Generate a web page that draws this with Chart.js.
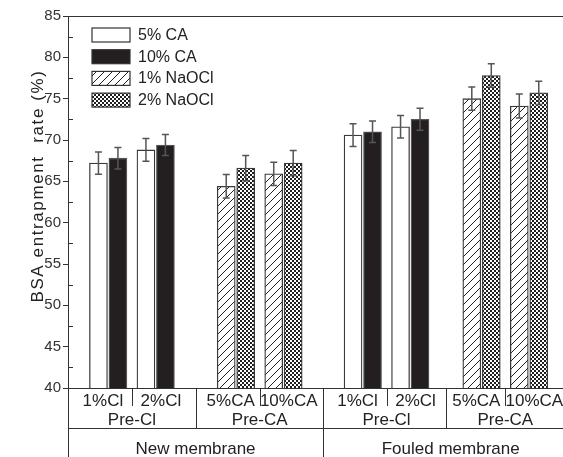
<!DOCTYPE html>
<html>
<head>
<meta charset="utf-8">
<script src="https://cdn.jsdelivr.net/npm/chart.js@4.4.1/dist/chart.umd.min.js"></script>
<style>
  html, body { margin: 0; padding: 0; background: #fff; }
</style>
</head>
<body>
<canvas id="chart" width="563" height="457"></canvas>
<script>
// group labels along the bottom, left to right
const groupLabels = ['1%Cl', '2%Cl', '5%CA', '10%CA', '1%Cl', '2%Cl', '5%CA', '10%CA'];
const treatmentLabels = ['Pre-Cl', 'Pre-CA', 'Pre-Cl', 'Pre-CA'];
const membraneLabels = ['New membrane', 'Fouled membrane'];
const seriesNames = ['5% CA', '10% CA', '1% NaOCl', '2% NaOCl'];

// Pre-Cl groups (1%Cl, 2%Cl new; 1%Cl, 2%Cl fouled)
const ca5 = [67.2, 68.8, 70.6, 71.6];
const ca10 = [67.8, 69.4, 71.0, 72.5];
const ca5Err = [1.35, 1.37, 1.38, 1.37];
const ca10Err = [1.3, 1.28, 1.29, 1.33];
// Pre-CA groups (5%CA, 10%CA new; 5%CA, 10%CA fouled)
const naocl1 = [64.4, 65.9, 75.0, 74.1];
const naocl2 = [66.6, 67.2, 77.8, 75.7];
const naocl1Err = [1.42, 1.4, 1.4, 1.45];
const naocl2Err = [1.52, 1.53, 1.41, 1.42];

const yMin = 40, yMax = 85, yStep = 5;

const FONT = '"Liberation Sans", Arial, Helvetica, sans-serif';
const BLOCK_GAPS = [0.69, 0.67, 0.5];   // extra space after each block of two groups
const HALF = 0.205;                     // half distance between the two bars of a group

function groupX(i) {
    let x = 1 + i;
    for (let b = 0; b < Math.floor(i / 2); b++) x += BLOCK_GAPS[b];
    return x;
}
const preClIdx = [0, 1, 4, 5];
const preCaIdx = [2, 3, 6, 7];

function pts(idx, vals, errs, side) {
    return idx.map((g, k) => ({ x: groupX(g) + side * HALF, y: vals[k], err: errs[k] }));
}

// fill patterns
function hatchPattern() {
    const c = document.createElement('canvas');
    c.width = 8; c.height = 8;
    const g = c.getContext('2d');
    g.fillStyle = '#fff';
    g.fillRect(0, 0, 8, 8);
    g.strokeStyle = '#222';
    g.lineWidth = 1;
    g.beginPath();
    g.moveTo(-1, 9); g.lineTo(9, -1);
    g.moveTo(-1, 1); g.lineTo(1, -1);
    g.moveTo(7, 9); g.lineTo(9, 7);
    g.stroke();
    return g.createPattern(c, 'repeat');
}
function crossPattern() {
    const c = document.createElement('canvas');
    c.width = 4; c.height = 4;
    const g = c.getContext('2d');
    g.fillStyle = '#fff';
    g.fillRect(0, 0, 4, 4);
    g.fillStyle = '#1e1e1e';
    g.fillRect(0, 0, 2, 2);
    g.fillRect(2, 2, 2, 2);
    g.fillRect(1, 1, 1, 1);
    return g.createPattern(c, 'repeat');
}

const fills = ['#ffffff', '#231f20', hatchPattern(), crossPattern()];
const borders = ['#3a3a3a', '#555555', '#3a3a3a', '#3a3a3a'];

const errorBars = {
    id: 'errorBars',
    afterDatasetsDraw(chart) {
        const ctx = chart.ctx, y = chart.scales.y;
        ctx.save();
        ctx.strokeStyle = '#555';
        ctx.lineWidth = 1.5;
        chart.data.datasets.forEach((ds, di) => {
            chart.getDatasetMeta(di).data.forEach((bar, k) => {
                const p = ds.data[k];
                const top = y.getPixelForValue(p.y + p.err);
                const bot = y.getPixelForValue(p.y - p.err);
                ctx.beginPath();
                ctx.moveTo(bar.x, top); ctx.lineTo(bar.x, bot);
                ctx.moveTo(bar.x - 3.5, top); ctx.lineTo(bar.x + 3.5, top);
                ctx.moveTo(bar.x - 3.5, bot); ctx.lineTo(bar.x + 3.5, bot);
                ctx.stroke();
            });
        });
        ctx.restore();
    }
};

const frame = {
    id: 'frame',
    afterDraw(chart) {
        const ctx = chart.ctx, a = chart.chartArea, x = chart.scales.x, y = chart.scales.y;
        ctx.save();
        ctx.strokeStyle = '#333';
        ctx.lineWidth = 1;
        // top border
        ctx.beginPath();
        ctx.moveTo(a.left, a.top + 0.5); ctx.lineTo(a.right, a.top + 0.5);
        ctx.stroke();
        // inward minor ticks
        ctx.beginPath();
        for (let v = yMin + yStep / 2; v < yMax; v += yStep) {
            const py = Math.round(y.getPixelForValue(v)) + 0.5;
            ctx.moveTo(a.left, py); ctx.lineTo(a.left + 5, py);
        }
        ctx.stroke();

        // category table under the plot
        const b = a.bottom;
        const row1 = b + 18, row2 = b + 40, bottom = chart.height;
        const mid = (i) => (x.getPixelForValue(groupX(i)) + x.getPixelForValue(groupX(i + 1))) / 2;
        ctx.beginPath();
        ctx.moveTo(a.left, b + 0.5); ctx.lineTo(a.right, b + 0.5);
        ctx.moveTo(a.left, row2 + 0.5); ctx.lineTo(a.right, row2 + 0.5);
        ctx.moveTo(a.left + 0.5, b); ctx.lineTo(a.left + 0.5, bottom);
        for (let i = 0; i < groupLabels.length - 1; i++) {
            const px = Math.round(mid(i)) + 0.5;
            const end = (i % 4 === 3) ? bottom : (i % 2 === 1 ? row2 : row1);
            ctx.moveTo(px, b); ctx.lineTo(px, end);
        }
        ctx.stroke();

        ctx.fillStyle = '#222';
        ctx.textAlign = 'center';
        ctx.textBaseline = 'middle';
        ctx.font = '17px ' + FONT;
        groupLabels.forEach((t, i) => {
            const centre = mid(i - (i % 2));
            ctx.fillText(t, centre + (i % 2 ? 29 : -29), b + 13);
        });
        treatmentLabels.forEach((t, j) => {
            ctx.fillText(t, mid(2 * j), b + 32);
        });
        membraneLabels.forEach((t, m) => {
            const l = m === 0 ? a.left : mid(3);
            const r = m === 0 ? mid(3) : mid(3) + (mid(3) - a.left);
            ctx.fillText(t, (l + r) / 2, b + 61);
        });

        // y axis title
        ctx.save();
        ctx.translate(38, 186);
        ctx.rotate(-Math.PI / 2);
        ctx.font = '17px ' + FONT;
        ctx.letterSpacing = '1.6px';
        ctx.fillText('BSA entrapment  rate (%)', 0, 0);
        ctx.restore();

        // legend
        ctx.font = '16px ' + FONT;
        ctx.textAlign = 'left';
        seriesNames.forEach((name, i) => {
            const ly = 28 + i * 21.7;
            ctx.fillStyle = fills[i];
            ctx.fillRect(92, ly, 38, 14);
            ctx.strokeStyle = '#333';
            ctx.lineWidth = 1.2;
            ctx.strokeRect(92, ly, 38, 14);
            ctx.fillStyle = '#222';
            ctx.fillText(name, 138, ly + 7.5);
        });
        ctx.restore();
    }
};

new Chart(document.getElementById('chart'), {
    type: 'bar',
    data: {
        datasets: [
            { label: seriesNames[0], data: pts(preClIdx, ca5, ca5Err, -1) },
            { label: seriesNames[1], data: pts(preClIdx, ca10, ca10Err, 1) },
            { label: seriesNames[2], data: pts(preCaIdx, naocl1, naocl1Err, -1) },
            { label: seriesNames[3], data: pts(preCaIdx, naocl2, naocl2Err, 1) }
        ].map((ds, i) => Object.assign(ds, {
            backgroundColor: fills[i],
            borderColor: borders[i],
            borderWidth: 1.3,
            barThickness: 18,
            grouped: false
        }))
    },
    options: {
        responsive: false,
        animation: false,
        devicePixelRatio: 1,
        layout: { padding: { top: 16, bottom: 69, left: 0, right: 0 } },
        plugins: { legend: { display: false }, tooltip: { enabled: false } },
        scales: {
            x: { type: 'linear', min: 0.154, max: 10.575, offset: false, display: false },
            y: {
                min: yMin, max: yMax,
                ticks: { stepSize: yStep, color: '#333', padding: 2, font: { size: 15, family: FONT } },
                grid: { drawOnChartArea: false, tickLength: 5, color: '#333' },
                border: { color: '#333', width: 1 },
                afterFit(s) { s.width = 68; }
            }
        }
    },
    plugins: [errorBars, frame]
});
</script>
</body>
</html>
